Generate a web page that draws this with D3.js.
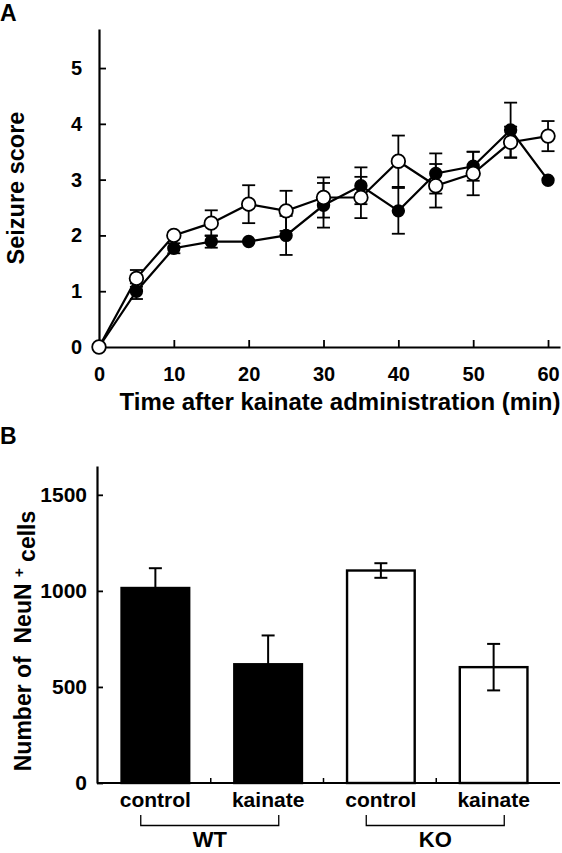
<!DOCTYPE html>
<html><head><meta charset="utf-8">
<script src="https://cdn.jsdelivr.net/npm/d3@7"></script>
<style>
body{margin:0;background:#fff}
svg{display:block}
text{font-family:"Liberation Sans",Arial,Helvetica,sans-serif;font-weight:bold;fill:#000}
</style>
</head><body>
<svg id="c" width="562" height="853"></svg>
<script>
// ---------- Panel A data ----------
const timeMin   = [0, 5, 10, 15, 20, 25, 30, 35, 40, 45, 50, 55, 60];
const wtScore    = [0, 1.00, 1.77, 1.89, 1.89, 2.00, 2.54, 2.89, 2.44, 3.11, 3.24, 3.89, 2.99];
const wtScoreErr = [0, 0.14, 0.09, 0.11, 0.00, 0.35, 0.40, 0.33, 0.41, 0.36, 0.26, 0.49, 0.00];
const koScore    = [0, 1.23, 2.00, 2.22, 2.56, 2.44, 2.68, 2.68, 3.33, 2.89, 3.11, 3.67, 3.78];
const koScoreErr = [0, 0.15, 0.05, 0.23, 0.34, 0.36, 0.36, 0.37, 0.46, 0.39, 0.39, 0.28, 0.27];
const scoreTicks = [0, 1, 2, 3, 4, 5];
const timeTicks  = [0, 10, 20, 30, 40, 50, 60];

// ---------- Panel B data ----------
const barConditions = ["control", "kainate", "control", "kainate"];
const barGroups     = ["WT", "WT", "KO", "KO"];
const neunCells     = [1015, 618, 1106, 603];
const neunErr       = [103, 150, 38, 121];
const neunTicks     = [0, 500, 1000, 1500];
const groupNames    = ["WT", "KO"];

const svg = d3.select("#c");
const LW = 2.2;

// ================= Panel A =================
const gA = svg.append("g");
gA.append("text").attr("x", 0).attr("y", 21).style("font-size", "23px").text("A");

const xA = d3.scaleLinear().domain([0, 61.6]).range([99, 560]);
const yA = d3.scaleLinear().domain([0, 5.7]).range([347, 29]);

const axXA = gA.append("g").attr("transform", `translate(0,${yA(0)})`)
  .call(d3.axisBottom(xA).tickValues(timeTicks).tickSizeInner(-7).tickSizeOuter(0).tickPadding(20).tickFormat(d3.format("d")));
const axYA = gA.append("g").attr("transform", `translate(${xA(0)},0)`)
  .call(d3.axisLeft(yA).tickValues(scoreTicks).tickSizeInner(-7).tickSizeOuter(0).tickPadding(17).tickFormat(d3.format("d")));
[axXA, axYA].forEach(a => {
  a.select(".domain").attr("stroke", "#000").attr("stroke-width", LW);
  a.selectAll(".tick line").attr("stroke", "#000").attr("stroke-width", 1.8);
  a.selectAll(".tick text").style("font-size", "20px").attr("fill", "#000");
  a.attr("font-family", null).attr("font-size", null);
});

gA.append("text").attr("transform", `translate(24,${(yA(0)+yA(5.7))/2}) rotate(-90)`)
  .attr("text-anchor", "middle").style("font-size", "23.5px").text("Seizure score");
gA.append("text").attr("x", 340).attr("y", 410)
  .attr("text-anchor", "middle").style("font-size", "24px").text("Time after kainate administration (min)");

const seriesA = [
  {vals: wtScore, err: wtScoreErr, fill: "#000", r: 5.8},
  {vals: koScore, err: koScoreErr, fill: "#fff", r: 6.8}
];
const line = d3.line().x((d, i) => xA(timeMin[i])).y(d => yA(d));
seriesA.forEach(s => {
  const eb = gA.append("g");
  timeMin.forEach((t, i) => {
    if (s.err[i] <= 0) return;
    const x = xA(t), y1 = yA(s.vals[i] - s.err[i]), y2 = yA(s.vals[i] + s.err[i]);
    eb.append("line").attr("x1", x).attr("x2", x).attr("y1", y1).attr("y2", y2).attr("stroke", "#000").attr("stroke-width", 1.8);
    [y1, y2].forEach(y => eb.append("line").attr("x1", x - 6.5).attr("x2", x + 6.5).attr("y1", y).attr("y2", y).attr("stroke", "#000").attr("stroke-width", 1.8));
  });
});
seriesA.forEach(s => {
  gA.append("path").datum(s.vals).attr("d", line).attr("fill", "none").attr("stroke", "#000").attr("stroke-width", LW);
});
seriesA.forEach(s => {
  gA.append("g").selectAll("circle").data(s.vals).join("circle")
    .attr("cx", (d, i) => xA(timeMin[i])).attr("cy", d => yA(d)).attr("r", s.r)
    .attr("fill", s.fill).attr("stroke", "#000").attr("stroke-width", 1.8);
});

// ================= Panel B =================
const gB = svg.append("g");
gB.append("text").attr("x", 0).attr("y", 444).style("font-size", "23px").text("B");

const idx = d3.range(neunCells.length);
const xB = d3.scaleBand().domain(idx).range([99, 550]).paddingInner(0.4).paddingOuter(0.2);
const yB = d3.scaleLinear().domain([0, 1650]).range([783, 466]);

const axYB = gB.append("g").attr("transform", `translate(97,0)`)
  .call(d3.axisLeft(yB).tickValues(neunTicks).tickSizeInner(-6).tickSizeOuter(0).tickPadding(10).tickFormat(d3.format("d")));
axYB.select(".domain").attr("stroke", "#000").attr("stroke-width", LW);
axYB.selectAll(".tick line").attr("stroke", "#000").attr("stroke-width", 1.8);
axYB.selectAll(".tick text").style("font-size", "21px").attr("fill", "#000");
axYB.attr("font-family", null).attr("font-size", null);

// x axis baseline
gB.append("line").attr("x1", 97).attr("x2", 560).attr("y1", yB(0)).attr("y2", yB(0)).attr("stroke", "#000").attr("stroke-width", LW);
// minor ticks between bars
idx.slice(1).forEach(i => {
  const x = xB(i) - xB.step() * xB.paddingInner() / 2 - 1;
  gB.append("line").attr("x1", x).attr("x2", x).attr("y1", yB(0)).attr("y2", yB(0) - 5).attr("stroke", "#000").attr("stroke-width", 1.5);
});

gB.selectAll("rect.bar").data(idx).join("rect").attr("class", "bar")
  .attr("x", i => xB(i)).attr("width", xB.bandwidth())
  .attr("y", i => yB(neunCells[i])).attr("height", i => yB(0) - yB(neunCells[i]))
  .attr("fill", i => barGroups[i] === "WT" ? "#000" : "#fff")
  .attr("stroke", "#000").attr("stroke-width", 2.4);

idx.forEach(i => {
  const x = xB(i) + xB.bandwidth() / 2;
  const y1 = yB(neunCells[i] - neunErr[i]), y2 = yB(neunCells[i] + neunErr[i]);
  gB.append("line").attr("x1", x).attr("x2", x).attr("y1", y1).attr("y2", y2).attr("stroke", "#000").attr("stroke-width", 2);
  [y1, y2].forEach(y => gB.append("line").attr("x1", x - 6.5).attr("x2", x + 6.5).attr("y1", y).attr("y2", y).attr("stroke", "#000").attr("stroke-width", 2));
});

idx.forEach(i => {
  gB.append("text").attr("x", xB(i) + xB.bandwidth() / 2).attr("y", 807)
    .attr("text-anchor", "middle").style("font-size", "21px").text(barConditions[i]);
});

groupNames.forEach(g => {
  const members = idx.filter(i => barGroups[i] === g);
  const c1 = xB(members[0]) + xB.bandwidth() / 2, c2 = xB(members[members.length - 1]) + xB.bandwidth() / 2;
  const cx = (c1 + c2) / 2 - 2;
  const half = 69;
  gB.append("path").attr("d", `M${cx - half},815V825.5H${cx + half}V815`)
    .attr("fill", "none").attr("stroke", "#000").attr("stroke-width", 1.3);
  gB.append("text").attr("x", cx).attr("y", 847).attr("text-anchor", "middle").style("font-size", "22px").text(g);
});

gB.append("text").attr("transform", `translate(31,641) rotate(-90)`).attr("text-anchor", "middle")
  .style("font-size", "23px").style("white-space", "pre")
  .call(t => {
    t.append("tspan").text("Number of  NeuN ");
    t.append("tspan").attr("dy", "-0.45em").style("font-size", "15px").text("+");
    t.append("tspan").attr("dy", "0.45em").text(" cells");
  });
</script>
</body></html>
